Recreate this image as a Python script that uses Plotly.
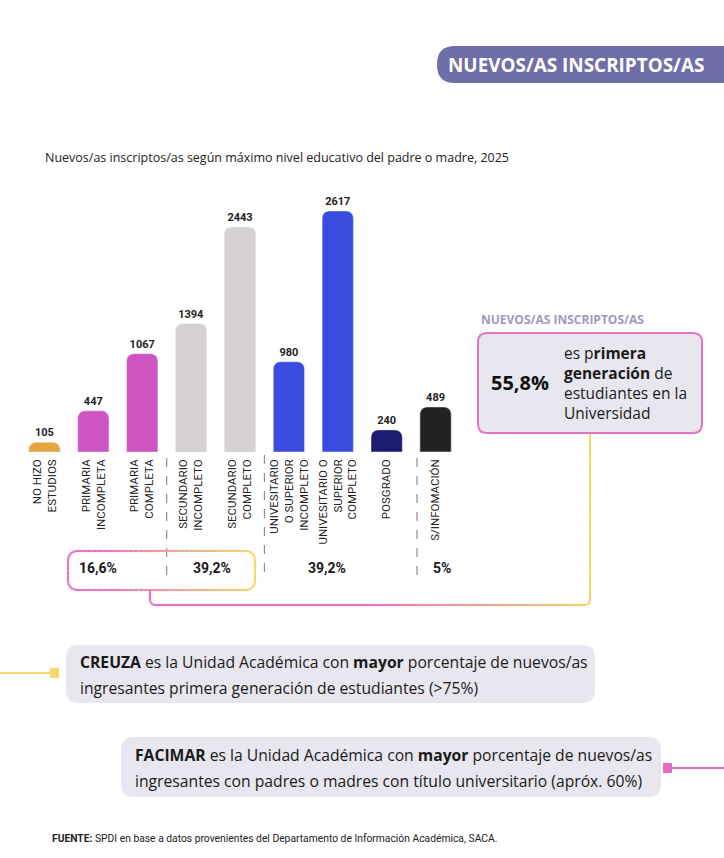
import math
import plotly.graph_objects as go

W, H = 724, 858

# data
categories = [
    "NO HIZO<br>ESTUDIOS",
    "PRIMARIA<br>INCOMPLETA",
    "PRIMARIA<br>COMPLETA",
    "SECUNDARIO<br>INCOMPLETO",
    "SECUNDARIO<br>COMPLETO",
    "UNIVESITARIO<br>O SUPERIOR<br>INCOMPLETO",
    "UNIVESITARIO O<br>SUPERIOR<br>COMPLETO",
    "POSGRADO",
    "S/INFOMACIÓN",
]
values = [105, 447, 1067, 1394, 2443, 980, 2617, 240, 489]
group_labels = ["16,6%", "39,2%", "39,2%", "5%"]
headline_pct = "55,8%"

bar_colors = ["#E8A43E", "#CE53C3", "#CE53C3", "#D4D1D0", "#D4D1D0",
              "#3A4CE0", "#3A4CE0", "#1C1B72", "#222222"]

PINK = "#E473C3"
YELLOW = "#F5D76A"
BOXFILL = "#E8E6EE"


def px(x):
    return x / W


def py(y):
    return 1 - y / H


def rrect(x0, y0, x1, y1, r):
    # rounded rectangle path in paper coords (input in pixels, y down)
    pts = [
        ("M", [(x0 + r, y0)]), ("L", [(x1 - r, y0)]), ("Q", [(x1, y0), (x1, y0 + r)]),
        ("L", [(x1, y1 - r)]), ("Q", [(x1, y1), (x1 - r, y1)]), ("L", [(x0 + r, y1)]),
        ("Q", [(x0, y1), (x0, y1 - r)]), ("L", [(x0, y0 + r)]), ("Q", [(x0, y0), (x0 + r, y0)]),
    ]
    s = ""
    for cmd, p in pts:
        s += cmd + " " + " ".join(f"{px(a):.5f},{py(b):.5f}" for a, b in p) + " "
    return s + "Z"


def mix(c0, c1, t):
    t = max(0.0, min(1.0, t))
    a = [int(c0[i:i + 2], 16) for i in (1, 3, 5)]
    b = [int(c1[i:i + 2], 16) for i in (1, 3, 5)]
    return "#" + "".join(f"{round(a[i] + (b[i] - a[i]) * t):02x}" for i in range(3))


def sample_poly(points, step=4):
    out = [points[0]]
    for (xa, ya), (xb, yb) in zip(points[:-1], points[1:]):
        d = ((xb - xa) ** 2 + (yb - ya) ** 2) ** 0.5
        n = max(1, int(d / step))
        for k in range(1, n + 1):
            out.append((xa + (xb - xa) * k / n, ya + (yb - ya) * k / n))
    return out


def arc(cx, cy, r, a0, a1, n=6):
    return [(cx + r * math.cos(math.radians(a0 + (a1 - a0) * k / n)),
             cy + r * math.sin(math.radians(a0 + (a1 - a0) * k / n))) for k in range(n + 1)]


shapes = []


def seg(xa, ya, xb, yb, color, width=2.2):
    shapes.append(dict(type="line", xref="paper", yref="paper",
                       x0=px(xa), y0=py(ya), x1=px(xb), y1=py(yb),
                       line=dict(color=color, width=width)))


def label(x, y, txt, size, color="#1a1a1a", family="Open Sans", xanchor="left"):
    fig.add_annotation(x=px(x), y=py(y), xref="paper", yref="paper",
                       xanchor=xanchor, yanchor="middle", text=txt, showarrow=False,
                       font=dict(family=family, size=size, color=color))


fig = go.Figure()

fig.add_trace(go.Bar(
    x=categories, y=values,
    marker=dict(color=bar_colors, cornerradius=7),
    text=values, textposition="outside",
    textfont=dict(family="Roboto", size=11, color="#222222", weight="bold"),
    cliponaxis=False, width=0.64, hoverinfo="skip",
))

# axis geometry (pixels)
base_px, top_px, max_px = 452, 180, 211
yr = max(values) * (base_px - top_px) / (base_px - max_px)

fig.update_layout(
    width=W, height=H, autosize=False,
    margin=dict(l=0, r=0, t=0, b=0),
    paper_bgcolor="white", plot_bgcolor="white",
    showlegend=False,
    xaxis=dict(domain=[px(20), px(460)], showgrid=False, showline=False, zeroline=False,
               ticks="", tickangle=-90, ticklabelstandoff=4,
               tickfont=dict(family="Roboto", size=11.5, color="#222222")),
    yaxis=dict(domain=[py(base_px), py(top_px)], range=[0, yr], visible=False),
)

# dashed separators between groups
for xb, y0 in [(2.5, 458), (4.5, 455), (7.62, 458)]:
    shapes.append(dict(type="line", xref="x", yref="paper", x0=xb, x1=xb,
                       y0=py(y0), y1=py(580), line=dict(color="#8E8E8E", width=1.2, dash="dash")))

# group percentages
for lab, xc in zip(group_labels, [1.1, 3.43, 5.78, 8.13]):
    fig.add_annotation(x=xc, y=py(568), xref="x", yref="paper", text=f"<b>{lab}</b>",
                       xanchor="center", yanchor="middle",
                       showarrow=False, font=dict(family="Roboto", size=14, color="#1a1a1a"))

# gradient rounded rectangle around first-generation groups
rx0, ry0, rx1, ry1, rr = 68, 551, 255, 590, 9
perim = ([(rx0 + rr, ry0), (rx1 - rr, ry0)] + arc(rx1 - rr, ry0 + rr, rr, -90, 0)
         + [(rx1, ry1 - rr)] + arc(rx1 - rr, ry1 - rr, rr, 0, 90)
         + [(rx0 + rr, ry1)] + arc(rx0 + rr, ry1 - rr, rr, 90, 180)
         + [(rx0, ry0 + rr)] + arc(rx0 + rr, ry0 + rr, rr, 180, 270))
pp = sample_poly(perim, 5)
for (xa, ya), (xb, yb) in zip(pp[:-1], pp[1:]):
    seg(xa, ya, xb, yb, mix(PINK, YELLOW, ((xa + xb) / 2 - 100) / (rx1 - 100)))

# connector from rectangle to the headline box
conn = [(150, 590), (150, 600)] + arc(155, 600, 5, 180, 90) + [(585, 605)] + arc(585, 600, 5, 90, 0) + [(590, 432)]
conn_s = sample_poly(conn, 5)
cum = [0.0]
for (xa, ya), (xb, yb) in zip(conn_s[:-1], conn_s[1:]):
    cum.append(cum[-1] + ((xb - xa) ** 2 + (yb - ya) ** 2) ** 0.5)
total = cum[-1]
for i in range(len(conn_s) - 1):
    (xa, ya), (xb, yb) = conn_s[i], conn_s[i + 1]
    seg(xa, ya, xb, yb, mix(PINK, YELLOW, (cum[i] / total - 0.35) / 0.4))

# headline box
shapes.append(dict(type="path", xref="paper", yref="paper", path=rrect(478, 333, 702, 433, 9),
                   fillcolor=BOXFILL, line=dict(color=PINK, width=2)))
label(479, 319, "<b>NUEVOS/AS INSCRIPTOS/AS</b>", 12, color="#9D98C4")
label(489, 382, f"<b>{headline_pct}</b>", 20, color="#111111")
for txt, yy in [("es p<b>rimera</b>", 353), ("<b>generación</b> de", 373),
                ("estudiantes en la", 393), ("Universidad", 413)]:
    label(562, yy, txt, 15.5)

# title badge
shapes.append(dict(type="path", xref="paper", yref="paper", path=rrect(437, 46, 745, 83, 18),
                   fillcolor="#6E6FA8", line=dict(width=0)))
label(446, 65, "<b>NUEVOS/AS INSCRIPTOS/AS</b>", 18.9, color="white")

# subtitle
label(43, 158, "Nuevos/as inscriptos/as según máximo nivel educativo del padre o madre, 2025",
      12.5, color="#222222")

# note boxes
seg(0, 673, 54, 673, YELLOW)
shapes.append(dict(type="rect", xref="paper", yref="paper", x0=px(50), x1=px(59), y0=py(668), y1=py(678),
                   fillcolor=YELLOW, line=dict(width=0)))
shapes.append(dict(type="path", xref="paper", yref="paper", path=rrect(66, 645, 595, 703, 13),
                   fillcolor=BOXFILL, line=dict(width=0)))
seg(668, 768, W, 768, "#E46CC0")
shapes.append(dict(type="rect", xref="paper", yref="paper", x0=px(663), x1=px(672), y0=py(763), y1=py(773),
                   fillcolor="#E46CC0", line=dict(width=0)))
shapes.append(dict(type="path", xref="paper", yref="paper", path=rrect(121, 737, 661, 797, 13),
                   fillcolor=BOXFILL, line=dict(width=0)))

notes = [
    ("<b>CREUZA</b> es la Unidad Académica con <b>mayor</b> porcentaje de nuevos/as", 78, 662),
    ("ingresantes primera generación de estudiantes (>75%)", 78, 688),
    ("<b>FACIMAR</b> es la Unidad Académica con <b>mayor</b> porcentaje de nuevos/as", 133, 755),
    ("ingresantes con padres o madres con título universitario (apróx. 60%)", 133, 781),
]
for txt, xx, yy in notes:
    label(xx, yy, txt, 15.7)

# source
label(50, 838, "<b>FUENTE:</b> SPDI en base a datos provenientes del Departamento de Información Académica, SACA.",
      10.3, color="#222222", family="Roboto")

fig.update_layout(shapes=shapes)
fig.write_html("out.html", config={"displayModeBar": False},
               post_script="document.body.style.margin='0';")
